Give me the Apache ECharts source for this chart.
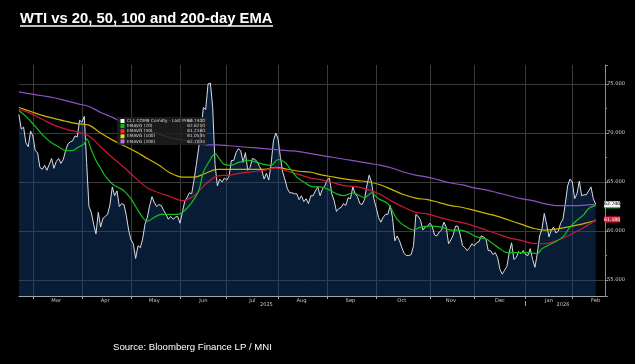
<!DOCTYPE html>
<html><head><meta charset="utf-8">
<script src="https://cdn.jsdelivr.net/npm/echarts@6/dist/echarts.min.js"></script>
<style>html,body{margin:0;padding:0;background:#000;}#c{width:635px;height:364px;}</style>
</head><body><div id="c"></div>
<script>
// ---------- calendar (trading days) ----------
const startDate = '2025-02-21';
const endDate = '2026-02-23';
const holidays = ['2025-04-18','2025-05-26','2025-06-19','2025-07-04','2025-09-01','2025-11-27','2025-12-25','2026-01-01','2026-01-19','2026-02-16'];
const monthNames = ['Jan','Feb','Mar','Apr','May','Jun','Jul','Aug','Sep','Oct','Nov','Dec'];
const yearLabels = {'2025-07-25':'2025','2026-01-27':'2026'};
const yTickFormat = 3;

// ---------- series values (one per trading day from 2025-02-21) ----------
const price = [
71.9,70.4,70.6,69.0,68.6,70.2,69.7,68.2,68.0,66.5,66.3,66.7,66.2,66.8,67.4,66.4,67.1,67.4,66.9,67.3,68.2,68.9,69.1,69.2,69.7,
69.6,71.3,71.1,71.7,67.0,62.5,61.9,60.7,59.7,61.9,60.4,61.3,61.5,61.7,62.7,64.5,63.6,64.1,62.5,62.8,62.7,61.6,60.1,59.1,58.7,
57.2,58.5,58.3,59.2,60.7,61.4,62.6,63.5,62.9,62.5,62.7,62.6,62.1,61.7,61.2,61.5,61.2,61.4,61.5,60.8,61.9,63.0,63.4,63.9,63.8,
65.2,66.8,68.5,70.2,72.6,72.4,75.0,75.1,72.6,66.8,64.6,65.3,65.0,65.4,65.2,65.6,67.2,67.2,68.0,68.4,68.2,67.0,68.0,66.2,66.5,
67.4,67.3,67.1,66.6,66.2,65.3,65.9,65.2,66.8,69.2,70.0,69.4,67.5,66.0,65.2,64.3,63.9,63.9,63.8,63.8,63.2,63.6,63.0,63.3,62.8,
63.6,63.6,64.1,64.5,63.6,64.3,64.6,65.2,65.4,63.8,63.1,62.0,62.3,62.4,62.8,62.6,63.4,63.3,64.5,63.8,63.5,62.8,62.7,63.2,64.6,
65.7,65.0,63.3,62.4,61.4,60.9,61.4,61.7,61.7,62.6,61.4,59.0,59.5,59.0,58.3,57.7,57.5,57.5,57.6,58.5,61.7,61.5,61.1,60.1,60.4,
60.5,60.8,60.5,59.6,59.5,59.9,60.1,60.9,60.4,58.7,59.1,59.6,60.5,60.5,59.6,58.5,58.3,58.0,58.3,58.7,58.5,58.8,58.9,59.5,59.4,
59.2,58.0,58.0,57.6,57.8,57.3,56.1,55.6,56.0,56.4,57.8,58.8,57.1,57.3,57.9,57.7,58.0,57.6,57.5,58.2,57.1,56.3,57.7,59.5,60.2,
61.8,60.7,59.4,60.1,60.4,59.8,60.0,60.8,61.2,62.8,64.6,65.3,65.0,63.3,63.8,65.1,63.6,63.7,63.7,64.1,64.5,63.3,62.74
];
// EMA readings: [trading-day index, value]
const ema20 = [[0,72.3],[3,71.7],[5,71.2],[8,70.4],[11,69.6],[14,69.0],[17,68.6],[20,68.2],[23,68.2],[25,68.5],[28,68.9],[29,69.4],[31,68.3],[33,67.2],[35,66.4],[37,65.6],[40,64.8],[43,64.4],[45,64.1],[48,63.3],[50,62.5],[53,61.4],[55,61.0],[58,61.4],[61,61.7],[65,61.7],[68,61.7],[71,62.1],[74,62.9],[77,64.1],[79,66.0],[82,67.3],[84,67.9],[86,67.3],[88,66.8],[91,66.7],[94,67.0],[98,67.2],[102,67.0],[105,66.8],[108,66.7],[111,67.3],[114,67.0],[116,66.4],[119,65.5],[122,65.0],[126,64.5],[129,64.5],[132,64.3],[136,63.8],[139,63.6],[143,63.9],[148,63.4],[151,63.9],[154,63.3],[158,62.8],[162,61.2],[166,60.4],[169,60.1],[172,60.4],[176,60.5],[181,60.4],[185,60.1],[189,60.1],[192,59.9],[196,59.4],[200,59.2],[203,58.7],[206,58.2],[209,57.8],[213,57.8],[217,57.8],[222,57.7],[224,58.2],[229,58.8],[233,59.4],[236,60.4],[239,61.1],[242,61.7],[244,62.3],[247,62.62]];
const ema50 = [[0,72.4],[5,72.0],[10,71.4],[15,70.8],[20,70.4],[25,70.1],[30,69.7],[35,68.6],[40,67.5],[45,66.5],[50,65.4],[55,64.4],[60,63.9],[65,63.5],[70,63.1],[75,63.6],[80,64.8],[85,65.6],[90,65.7],[95,65.9],[100,66.05],[105,66.2],[110,66.45],[115,66.1],[120,65.75],[125,65.4],[130,65.2],[135,64.9],[140,64.6],[145,64.5],[150,64.2],[155,63.7],[160,63.0],[165,62.4],[170,61.9],[175,61.75],[180,61.4],[185,61.1],[190,60.85],[195,60.5],[200,60.1],[205,59.7],[210,59.3],[215,59.05],[220,58.75],[225,58.7],[230,59.0],[235,59.5],[240,60.1],[245,60.8],[247,61.18]];
const ema100 = [[0,72.6],[5,72.2],[10,71.8],[15,71.5],[20,71.2],[25,70.95],[30,70.8],[35,70.0],[40,69.3],[45,68.7],[50,68.1],[55,67.4],[60,66.7],[65,65.9],[70,65.5],[75,65.5],[80,65.9],[85,66.3],[90,66.3],[95,66.3],[100,66.3],[105,66.3],[110,66.5],[115,66.3],[120,66.1],[125,66.0],[130,65.7],[135,65.5],[140,65.3],[145,65.15],[150,65.0],[155,64.7],[160,64.2],[165,63.7],[170,63.35],[175,63.2],[180,62.9],[185,62.6],[190,62.4],[195,62.1],[200,61.8],[205,61.5],[210,61.1],[215,60.7],[220,60.3],[225,60.1],[230,60.2],[235,60.4],[240,60.65],[245,60.95],[247,61.05]];
const ema200 = [[0,74.2],[5,74.0],[10,73.8],[15,73.6],[20,73.3],[25,73.0],[30,72.7],[35,72.1],[40,71.6],[45,71.0],[50,70.6],[55,70.3],[60,69.9],[65,69.5],[70,69.3],[75,69.0],[80,68.8],[85,68.8],[90,68.7],[95,68.6],[100,68.5],[105,68.4],[110,68.3],[115,68.2],[120,68.1],[125,67.9],[130,67.7],[135,67.5],[140,67.3],[145,67.1],[150,66.9],[155,66.7],[160,66.4],[165,66.0],[170,65.7],[175,65.5],[180,65.2],[185,64.9],[190,64.7],[195,64.4],[200,64.2],[205,63.9],[210,63.6],[215,63.3],[220,63.1],[225,62.8],[230,62.6],[235,62.6],[240,62.6],[245,62.7],[247,62.70]];

const legendRows = [
  ['CL1 COMB Comdty - Last Price','62.7400','#ffffff'],
  ['EMAVG (20)','62.6210','#00d000'],
  ['EMAVG (50)','61.2160','#ff1e3c'],
  ['EMAVG (100)','61.0535','#f0e000'],
  ['EMAVG (200)','62.7034','#c070ff']
];
const titleText = 'WTI vs 20, 50, 100 and 200-day EMA';
const sourceText = 'Source: Bloomberg Finance LP / MNI';
const yMin = 53.37, yMax = 76.94;

// ---------- build categories ----------
const dates = [];
(function(){
  let t = Date.parse(startDate + 'T00:00:00Z');
  const end = Date.parse(endDate + 'T00:00:00Z');
  while (t <= end) {
    const d = new Date(t);
    const dow = d.getUTCDay();
    const s = d.toISOString().slice(0,10);
    if (dow !== 0 && dow !== 6 && holidays.indexOf(s) < 0) dates.push(s);
    t += 86400000;
  }
})();
const monthStarts = [];
for (let i = 1; i < dates.length; i++) if (dates[i].slice(5,7) !== dates[i-1].slice(5,7)) monthStarts.push(i);
const monthStartSet = new Set(monthStarts);
const monthLabelIdx = new Set();
for (let k = 0; k < monthStarts.length; k++) {
  const a = monthStarts[k];
  const b = monthStarts[k+1];
  monthLabelIdx.add(b !== undefined ? Math.floor((a + b) / 2) : a + 10);
}
const yearStartSet = new Set(monthStarts.filter(i => dates[i].slice(5,7) === '01'));

const lastIdx = price.length - 1;

// ---------- legend graphic ----------
const lg = [];
const lx = 117, ly = 117;
lg.push({type:'rect', shape:{x:lx, y:ly, width:90, height:28}, style:{fill:'rgba(32,32,32,0.82)'}, z:100});
legendRows.forEach((r, i) => {
  const cy = ly + 4 + i * 5.1;
  lg.push({type:'rect', shape:{x:lx+3.5, y:cy-2, width:4, height:4}, style:{fill:r[2]}, z:101});
  lg.push({type:'text', style:{x:lx+10, y:cy, text:r[0], fill:'#d8d8d8', font:'4.3px "DejaVu Sans"', verticalAlign:'middle', align:'left'}, z:101});
  lg.push({type:'text', style:{x:lx+88, y:cy, text:r[1], fill:'#d8d8d8', font:'4.3px "DejaVu Sans"', verticalAlign:'middle', align:'right'}, z:101});
});

const tag = (idx, val, bg, fg, z) => ({
  symbol:'rect', symbolSize:[16,6], symbolOffset:[16.5,0], silent:true, z:z,
  itemStyle:{color:bg},
  label:{show:true, position:'inside', color:fg, fontSize:4.6, fontFamily:'DejaVu Sans', formatter:() => val.toFixed(3)},
  data:[{coord:[idx, val]}]
});

const emaSeries = (name, data, color, tg) => {
  const s = {name, type:'line', data, symbol:'none', smooth:0.35, showSymbol:false,
    lineStyle:{color, width:1.2}, z:3, animation:false};
  if (tg) s.markPoint = tg;
  return s;
};

const chart = echarts.init(document.getElementById('c'), null, {renderer:'canvas', width:635, height:364});
chart.setOption({
  backgroundColor:'#000',
  animation:false,
  grid:{left:18.9, right:30, top:65, bottom:68, containLabel:false},
  xAxis:[{
    type:'category', data:dates, boundaryGap:false,
    axisLine:{show:true, lineStyle:{color:'#a0a4aa', width:1}},
    axisTick:{show:true, length:3, interval:(i)=>monthStartSet.has(i), lineStyle:{color:'#a0a4aa'}},
    splitLine:{show:true, interval:(i)=>monthStartSet.has(i), lineStyle:{color:'#3a3a3a', width:1}},
    axisLabel:{show:true, interval:(i)=>monthLabelIdx.has(i),
      formatter:(v)=>monthNames[parseInt(v.slice(5,7),10)-1], color:'#c8c8c8', fontSize:5.2, margin:2, fontFamily:'DejaVu Sans'}
  },{
    type:'category', data:dates, boundaryGap:false, position:'bottom', offset:5,
    axisLine:{show:false},
    axisTick:{show:true, length:5, interval:(i)=>yearStartSet.has(i), lineStyle:{color:'#a0a4aa'}},
    splitLine:{show:false},
    axisLabel:{show:true, interval:(i,v)=>yearLabels[v]!==undefined,
      formatter:(v)=>yearLabels[v]||'', color:'#c8c8c8', fontSize:5, margin:1, fontFamily:'DejaVu Sans'}
  }],
  yAxis:{
    type:'value', position:'right', min:yMin, max:yMax, splitNumber:5,
    axisLine:{show:true, lineStyle:{color:'#8a8e94', width:1}},
    axisTick:{show:true, length:3, lineStyle:{color:'#8a8e94'}},
    minorTick:{show:true, splitNumber:2, length:2, lineStyle:{color:'#8a8e94'}},
    splitLine:{show:true, showMinLine:false, showMaxLine:false, lineStyle:{color:'#3a3a3a', width:1}},
    axisLabel:{show:true, showMinLabel:false, showMaxLabel:false, formatter:(v)=>v.toFixed(yTickFormat),
      color:'#c8c8c8', fontSize:5.2, margin:2, fontFamily:'DejaVu Sans'}
  },
  series:[
    {name:'price', type:'line', data:price, symbol:'none', showSymbol:false,
      lineStyle:{color:'#d8dce4', width:1}, areaStyle:{color:'rgba(22,78,148,0.52)', origin:'start'}, z:2,
      markPoint:tag(lastIdx, price[lastIdx], '#f2f2f2', '#000', 20)},
    emaSeries('EMA200', ema200, '#8c52c4', null),
    emaSeries('EMA100', ema100, '#cdb600', null),
    emaSeries('EMA50', ema50, '#cc1836', tag(lastIdx, ema50[ema50.length-1][1], '#e8203c', '#fff', 20)),
    emaSeries('EMA20', ema20, '#14c01c', tag(lastIdx, ema20[ema20.length-1][1], '#14c01c', '#000', 10))
  ],
  graphic:[
    {type:'text', style:{x:20, y:18.8, text:titleText, fill:'#fff', font:'bold 14.8px "Liberation Sans"', verticalAlign:'middle'}},
    {type:'line', shape:{x1:20, y1:26, x2:273, y2:26}, style:{stroke:'#fff', lineWidth:1.3}},
    {type:'text', style:{x:113, y:347, text:sourceText, fill:'#fff', font:'9.6px "Liberation Sans"', verticalAlign:'middle'}}
  ].concat(lg)
});
</script>
</body></html>
